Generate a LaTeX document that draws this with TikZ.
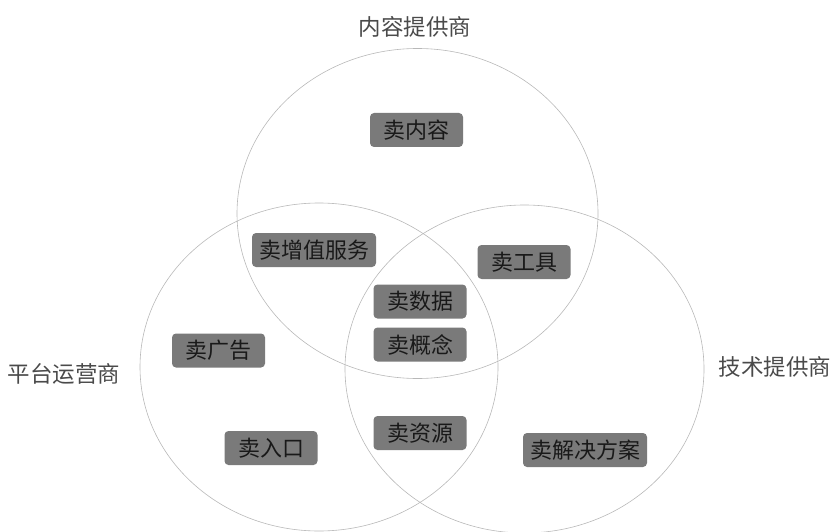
\documentclass[tikz,border=0pt]{standalone}
\usepackage{fontspec}
\newfontfamily\cjk{Noto Sans CJK SC}
\definecolor{ringc}{HTML}{B8B8B8}
\definecolor{boxc}{HTML}{7A7A7A}
\definecolor{labc}{HTML}{4A4A4A}
\tikzset{
  ring/.style={draw=ringc, line width=0.6pt},
  tag/.style={fill=boxc, rounded corners=4pt, font=\cjk\fontsize{22}{22}\selectfont, text=black!90,
    minimum height=34pt, minimum width=93pt, inner xsep=7pt, inner ysep=0pt},
  grp/.style={font=\cjk\fontsize{22.5}{22.5}\selectfont, text=labc}
}
\begin{document}
\begin{tikzpicture}[x=1pt,y=-1pt]
\useasboundingbox (0,0) rectangle (835,532);
\draw[ring] (417.5,213.5) ellipse [x radius=180.5, y radius=165];
\draw[ring] (319,367) ellipse [x radius=179, y radius=164];
\draw[ring] (524.5,369) ellipse [x radius=179.5, y radius=164];
\node[grp] (top) at (415,27) {内容提供商};
\node[grp] (left) at (64,374) {平台运营商};
\node[grp] (right) at (775,367) {技术提供商};
\node[tag] (nr) at (416.5,130) {卖内容};
\node[tag] (zz) at (314,250) {卖增值服务};
\node[tag] (gj) at (524,262) {卖工具};
\node[tag] (sj) at (420,301.5) {卖数据};
\node[tag] (gn) at (420,344.5) {卖概念};
\node[tag] (zy) at (420,433) {卖资源};
\node[tag] (jj) at (585,450) {卖解决方案};
\node[tag] (gg) at (218.5,350.5) {卖广告};
\node[tag] (rk) at (271,448) {卖入口};
\end{tikzpicture}
\end{document}
